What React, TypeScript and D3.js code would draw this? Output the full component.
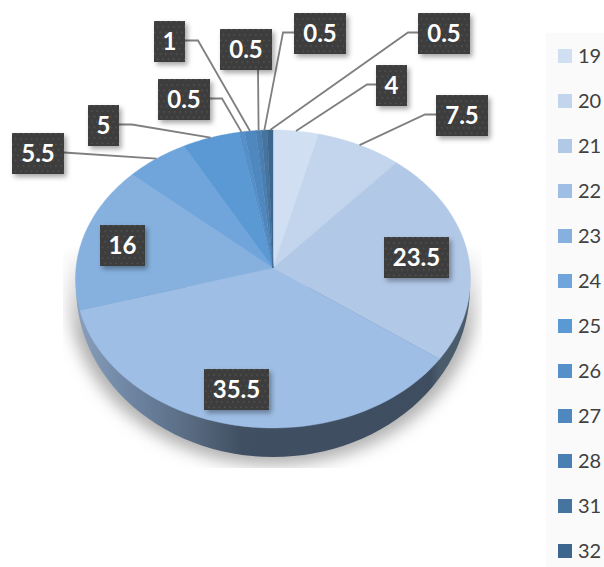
import React, { useRef, useEffect } from 'react';
import * as d3 from 'd3';

const categories = ['19', '20', '21', '22', '23', '24', '25', '26', '27', '28', '31', '32'];
const shares = [4, 7.5, 23.5, 35.5, 16, 5.5, 5, 0.5, 1, 0.5, 0.5, 0.5];
const colors = ['#d0dff1', '#c3d5ec', '#b1c8e7', '#9ebee5', '#86b1df', '#70a5db', '#5a99d4', '#5690cb', '#4f87bf', '#4a7fb3', '#45749f', '#3d668f'];

// label box centres, and where the leader bends (null = no leader)
const labelX = [391.5, 462, 416.5, 236.5, 122.5, 38, 103.5, 184, 169.5, 246, 320, 444];
const labelY = [85.5, 115.5, 257.5, 389.5, 245.5, 153.5, 125.5, 99.5, 41.5, 49.5, 33.5, 33.5];
const elbowX = [367, 425, null, null, null, 64, 132, 222, 198, 258, 283, 408];

const boxWidth = (value: number) => {
  const len = String(value).length;
  return len === 1 ? 31 : len === 2 ? 45 : len === 3 ? 52 : 65;
};

const App = () => {
  const svgRef = useRef(null);

  useEffect(() => {
    const svg = d3.select(svgRef.current);
    svg.selectAll('*').remove();

    const defs = svg.append('defs');

    const dots = defs.append('pattern')
      .attr('id', 'dots')
      .attr('width', 5.4)
      .attr('height', 10.8)
      .attr('patternUnits', 'userSpaceOnUse');
    dots.append('rect').attr('width', 5.4).attr('height', 10.8).attr('fill', '#3d3d3d');
    dots.append('rect').attr('x', 1).attr('y', 1).attr('width', 1.3).attr('height', 1.3).attr('fill', '#5c5c5c');
    dots.append('rect').attr('x', 3.7).attr('y', 6.4).attr('width', 1.3).attr('height', 1.3).attr('fill', '#5c5c5c');

    const labelShadow = defs.append('filter').attr('id', 'labelShadow')
      .attr('x', '-30%').attr('y', '-30%').attr('width', '170%').attr('height', '170%');
    labelShadow.append('feDropShadow')
      .attr('dx', 2.5).attr('dy', 3).attr('stdDeviation', 2.5)
      .attr('flood-color', '#000').attr('flood-opacity', 0.35);

    defs.append('filter').attr('id', 'blur')
      .attr('x', '-20%').attr('y', '-20%').attr('width', '140%').attr('height', '140%')
      .append('feGaussianBlur').attr('stdDeviation', 8);

    const sideGrad = defs.append('linearGradient').attr('id', 'side');
    [[0, '#8aa0bb'], [0.12, '#7188a6'], [0.3, '#56697f'], [0.42, '#414f62'], [0.9, '#3f4d60'], [0.92, '#4a5b6c'], [1, '#4a5b6c']]
      .forEach(([o, c]) => sideGrad.append('stop').attr('offset', o).attr('stop-color', c));

    const fade = defs.append('linearGradient').attr('id', 'fade').attr('x2', 0).attr('y2', 1);
    fade.append('stop').attr('offset', 0).attr('stop-color', '#000');
    fade.append('stop').attr('offset', 0.4).attr('stop-color', '#fff');
    defs.append('mask').attr('id', 'shadowMask').attr('maskUnits', 'userSpaceOnUse')
      .attr('x', 0).attr('y', 0).attr('width', 604).attr('height', 567)
      .append('rect').attr('x', 63).attr('y', 245).attr('width', 419).attr('height', 223).attr('fill', 'url(#fade)');

    // tilted disc: the unit circle seen in perspective, so the centre sits above the ellipse middle
    const project = (angle: number, r = 1) => {
      const u = Math.sin(angle) * r;
      const v = -Math.cos(angle) * r;
      const w = 1 - 0.0738 * v;
      return [273 + (197 * u) / w, (268 + 128.4 * v) / w];
    };
    const line = d3.line();
    const outline = (a0: number, a1: number) =>
      d3.range(0, 61).map(i => project(a0 + ((a1 - a0) * i) / 60));

    const slices = d3.pie<number>().sort(null).value(d => d)(shares);

    // underside of the disc, a little further away so the wall tapers at the sides
    const underside = (rx: number, ry: number, cy: number) =>
      d3.range(0, 61).map(i => {
        const a = (Math.PI * i) / 60;
        return [273 + rx * Math.cos(a), cy + ry * Math.sin(a)];
      });

    // shadow behind the wall
    svg.append('g').attr('mask', 'url(#shadowMask)')
      .append('path')
      .attr('d', line([[477, 230], ...underside(204, 170, 295), [69, 230]]) + 'Z')
      .attr('fill', '#b0b0b0')
      .attr('filter', 'url(#blur)');

    // wall of the disc
    svg.append('path')
      .attr('d', line(underside(197, 170, 287)) + 'Z')
      .attr('fill', 'url(#side)');

    // top face
    svg.append('g').selectAll('path')
      .data(slices)
      .join('path')
      .attr('d', d => line([project(0, 0), ...outline(d.startAngle, d.endAngle)]) + 'Z')
      .attr('fill', (d, i) => colors[i])
      .attr('stroke', (d, i) => colors[i])
      .attr('stroke-width', 0.4);

    // leaders
    svg.append('g').selectAll('path')
      .data(slices.filter((d, i) => elbowX[i] !== null))
      .join('path')
      .attr('d', d => {
        const i = d.index;
        const anchor = project((d.startAngle + d.endAngle) / 2);
        const side = labelX[i] < anchor[0] ? -1 : 1;
        // the label right above the centre drops its leader straight from the box bottom
        if (elbowX[i] === 258) return line([[258, labelY[i] + 20.5], anchor]);
        const start = [labelX[i] - side * boxWidth(shares[i]) / 2, labelY[i] - 1];
        return line([start, [elbowX[i], start[1]], anchor]);
      })
      .attr('fill', 'none')
      .attr('stroke', '#7f7f7f')
      .attr('stroke-width', 1.8);

    // data labels
    const labels = svg.append('g').selectAll('g')
      .data(shares)
      .join('g')
      .attr('transform', (d, i) => `translate(${labelX[i]},${labelY[i]})`);
    labels.append('rect')
      .attr('x', d => -boxWidth(d) / 2)
      .attr('y', -20.5)
      .attr('width', d => boxWidth(d))
      .attr('height', 41)
      .attr('fill', 'url(#dots)')
      .attr('filter', 'url(#labelShadow)');
    labels.append('text')
      .attr('text-anchor', 'middle')
      .attr('y', 8.5)
      .attr('fill', '#fff')
      .attr('font-family', 'Lato')
      .attr('font-weight', 700)
      .attr('font-size', 24)
      .text(d => d);

    // legend
    svg.append('rect').attr('x', 546).attr('y', 33).attr('width', 58).attr('height', 534).attr('fill', '#fafafa');
    const legendY = d3.scalePoint().domain(categories).range([56, 551]);
    const legend = svg.append('g').selectAll('g')
      .data(categories)
      .join('g')
      .attr('transform', d => `translate(558,${legendY(d)})`);
    legend.append('rect')
      .attr('y', -7)
      .attr('width', 14)
      .attr('height', 14)
      .attr('fill', (d, i) => colors[i]);
    legend.append('text')
      .attr('x', 20)
      .attr('y', 7)
      .attr('fill', '#404040')
      .attr('font-family', 'Lato')
      .attr('font-size', 20)
      .text(d => d);
  }, []);

  return (
    <svg ref={svgRef} width={604} height={567} style={{ position: 'absolute', left: 0, top: 0, display: 'block' }} />
  );
};

export default App;
